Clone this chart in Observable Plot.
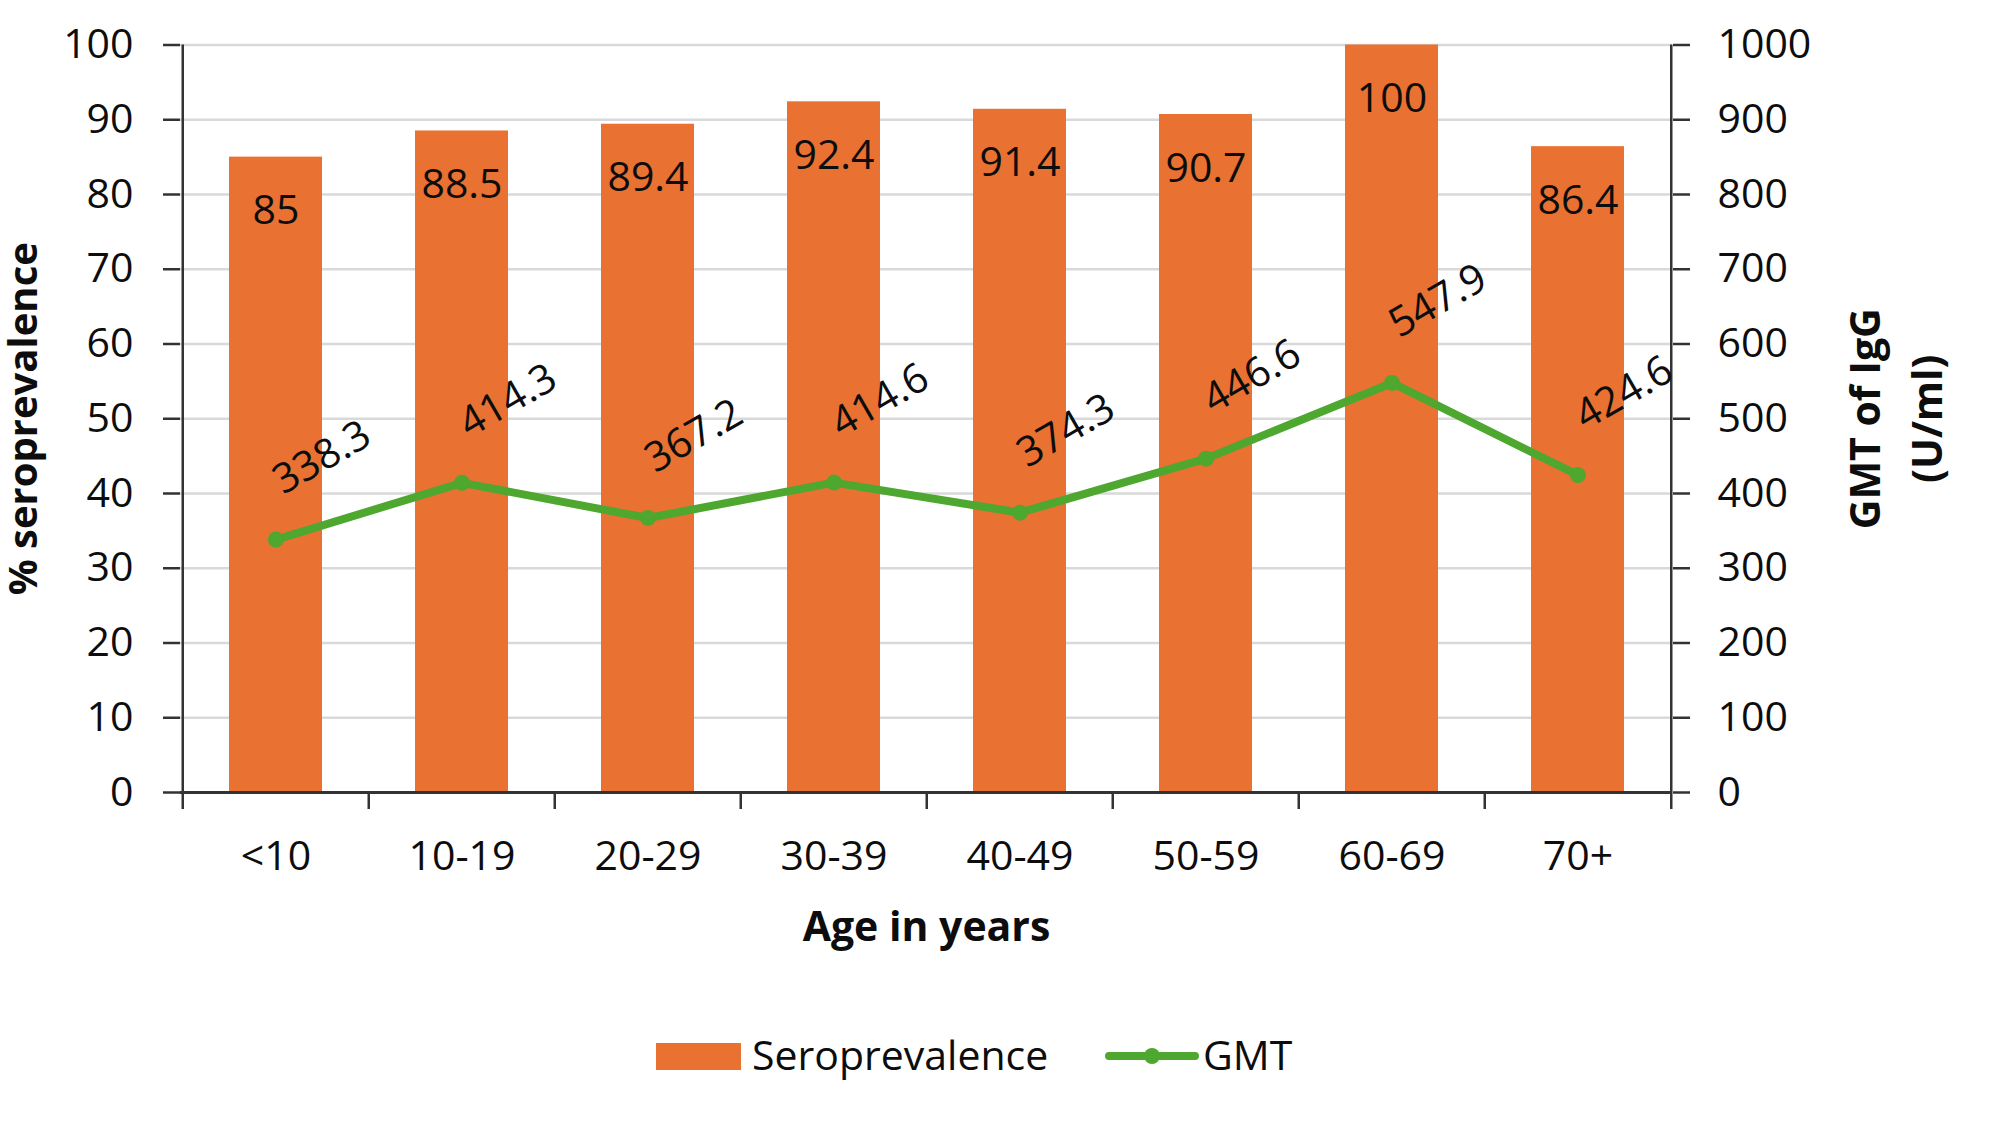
<!DOCTYPE html>
<html>
<head>
<meta charset="utf-8">
<script src="https://cdn.jsdelivr.net/npm/d3@7"></script>
<script src="https://cdn.jsdelivr.net/npm/@observablehq/plot@0.6"></script>
<style>
  html, body { margin: 0; padding: 0; background: #fff; overflow: hidden; }
  body { width: 2002px; height: 1124px; font-family: "Open Sans", sans-serif; color: #0d0d0d; }
  #legend { position: relative; width: 2002px; height: 124px; }
  #legend .sw { position: absolute; }
  #legend .lab { position: absolute; font-size: 41px; line-height: 44px; height: 44px; white-space: nowrap; }
</style>
</head>
<body>
<div id="chart"></div>
<div id="legend">
  <div class="sw" style="left:656px; top:43px; width:85px; height:27px; background:#E97132;"></div>
  <div class="lab" style="left:752px; top:32px;">Seroprevalence</div>
  <svg class="sw" style="left:1105px; top:46px;" width="94" height="20">
    <line x1="4" y1="10" x2="90" y2="10" stroke="#4EA72E" stroke-width="8" stroke-linecap="round"></line>
    <circle cx="47" cy="10" r="8" fill="#4EA72E"></circle>
  </svg>
  <div class="lab" style="left:1203px; top:32px;">GMT</div>
</div>
<script>
// ---- data ----
const categories = ["<10", "10-19", "20-29", "30-39", "40-49", "50-59", "60-69", "70+"];
const seroprevalence = [85, 88.5, 89.4, 92.4, 91.4, 90.7, 100, 86.4];
const gmt = [338.3, 414.3, 367.2, 414.6, 374.3, 446.6, 547.9, 424.6];
const leftTicks = [0, 10, 20, 30, 40, 50, 60, 70, 80, 90, 100];
const rightTicks = [0, 100, 200, 300, 400, 500, 600, 700, 800, 900, 1000];
const xTitle = "Age in years";
const yLeftTitle = "% seroprevalence";
const yRightTitle = "GMT of IgG\n(U/ml)";

const rows = categories.map((c, i) => ({cat: c, sero: seroprevalence[i], gmt: gmt[i]}));
const ratio = rightTicks[rightTicks.length - 1] / leftTicks[leftTicks.length - 1];

// ---- layout ----
const W = 2002, H = 1000;
const mT = 44.5, mB = H - 792, mL = 180, mR = W - 1672;
const plotH = H - mT - mB;
const step = (W - mL - mR) / categories.length;
const tickLen = 17;
const orange = "#E97132", green = "#4EA72E", axisColor = "#333333", gridColor = "#d9d9d9", ink = "#0d0d0d";
const FS = 41;

const chart = Plot.plot({
  width: W, height: H,
  marginTop: mT, marginBottom: mB, marginLeft: mL, marginRight: mR,
  style: {fontFamily: "Open Sans, sans-serif", fontSize: FS + "px", background: "#fff", color: ink, overflow: "visible"},
  x: {domain: categories, paddingInner: 0.5, paddingOuter: 0.25},
  y: {domain: [leftTicks[0], leftTicks[leftTicks.length - 1]]},
  marks: [
    Plot.gridY({ticks: leftTicks, stroke: gridColor, strokeOpacity: 1, strokeWidth: 2.5}),
    Plot.barY(rows, {x: "cat", y: "sero", fill: orange}),
    // axis lines & boundary ticks
    Plot.ruleY([leftTicks[0]], {stroke: axisColor, strokeWidth: 3}),
    Plot.ruleX([categories[0]], {x: d => d, dx: -step / 2, insetBottom: -tickLen, stroke: axisColor, strokeWidth: 2.5}),
    Plot.ruleX([categories[categories.length - 1]], {x: d => d, dx: step / 2, insetBottom: -tickLen, stroke: axisColor, strokeWidth: 2.5}),
    Plot.ruleX(categories.slice(1), {x: d => d, dx: -step / 2, insetTop: plotH, insetBottom: -tickLen, stroke: axisColor, strokeWidth: 2.5}),
    Plot.axisY({anchor: "left", ticks: leftTicks, tickSize: tickLen, tickPadding: 30, stroke: axisColor, strokeWidth: 2.5, fontSize: FS, fill: ink, label: null, tickFormat: d => String(d)}),
    Plot.axisY({anchor: "right", ticks: leftTicks, tickSize: tickLen, tickPadding: 28, stroke: axisColor, strokeWidth: 2.5, fontSize: FS, fill: ink, label: null, tickFormat: d => String(rightTicks[leftTicks.indexOf(d)])}),
    Plot.axisX({anchor: "bottom", tickSize: 0, tickPadding: 48, fontSize: FS, fill: ink, label: null}),
    // GMT line
    Plot.line(rows, {x: "cat", y: d => d.gmt / ratio, stroke: green, strokeWidth: 8}),
    Plot.dot(rows, {x: "cat", y: d => d.gmt / ratio, r: 8, fill: green}),
    // labels
    Plot.text(rows, {x: "cat", y: "sero", text: d => String(d.sero), dy: 54, fontSize: FS, fill: ink}),
    Plot.text(rows, {x: "cat", y: d => d.gmt / ratio, text: d => String(d.gmt), dx: 46, dy: -82, rotate: -30, fontSize: FS, fill: ink}),
    // titles
    Plot.text([xTitle], {frameAnchor: "bottom", text: d => d, dy: 148, lineAnchor: "bottom", textAnchor: "middle", fontSize: FS, fontWeight: "bold", fill: ink}),
    Plot.text([yLeftTitle], {frameAnchor: "left", text: d => d, dx: -156, rotate: -90, textAnchor: "middle", lineAnchor: "middle", fontSize: FS - 1, fontWeight: "bold", fill: ink}),
    Plot.text([yRightTitle], {frameAnchor: "right", text: d => d, dx: 219, rotate: -90, textAnchor: "middle", lineAnchor: "middle", lineHeight: 1.5, fontSize: FS, fontWeight: "bold", fill: ink})
  ]
});
document.getElementById("chart").appendChild(chart);
</script>
</body>
</html>
